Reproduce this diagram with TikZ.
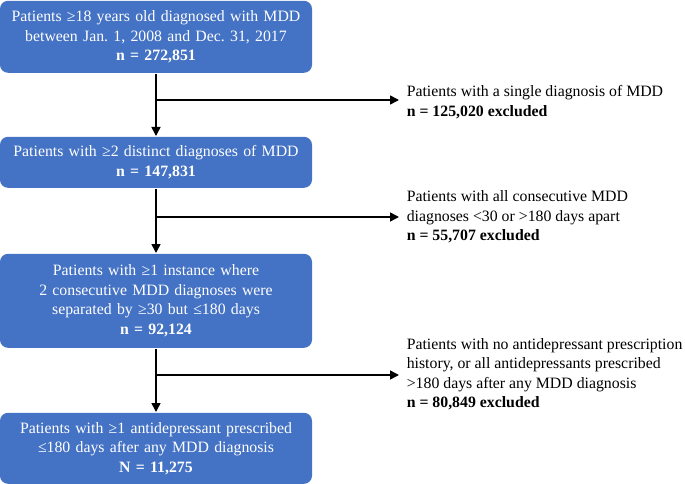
\documentclass[tikz,border=0pt]{standalone}
\usepackage{fontspec}
\setmainfont{Liberation Serif}
\usetikzlibrary{arrows.meta,positioning,calc}
\definecolor{boxblue}{HTML}{4472C4}
\frenchspacing

\begin{document}
\begin{tikzpicture}[->, >={Triangle[length=9pt,width=9pt]}, line width=1.6pt, x=1pt, y=-1pt, font=\fontsize{15.8}{19.5}\selectfont]
\tikzstyle{stage}=[fill=boxblue,draw=none,text=white,rounded corners=8pt,minimum width=312pt,text width=308pt,align=center,inner sep=0pt,anchor=north]
\tikzstyle{excl}=[anchor=west,align=left,inner xsep=7pt,inner ysep=0pt,text=black]
\useasboundingbox (0,0) rectangle (685,484);
\node[stage,minimum height=72pt]    (1) at (156,0)   {Patients ≥18 years old diagnosed with MDD\\between Jan.~1, 2008 and Dec.~31, 2017\\\textbf{n = 272,851}};
\node[stage,minimum height=51pt]    (2) at (156,136) {Patients with ≥2 distinct diagnoses of MDD\\\textbf{n = 147,831}};
\node[stage,minimum height=94pt]    (3) at (156,253) {Patients with ≥1 instance where\\2 consecutive MDD diagnoses were\\separated by ≥30 but ≤180 days\\\textbf{n = 92,124}};
\node[stage,minimum height=71pt]    (4) at (156,412) {Patients with ≥1 antidepressant prescribed\\≤180 days after any MDD diagnosis\\\textbf{N = 11,275}};
\coordinate (s1) at (156,100);
\coordinate (s2) at (156,217);
\coordinate (s3) at (156,375);
\node[excl] (e1) at (399,102) {Patients with a single diagnosis of MDD\\\textbf{n = 125,020 excluded}};
\node[excl] (e2) at (399,217) {Patients with all consecutive MDD\\diagnoses <30 or >180 days apart\\\textbf{n = 55,707 excluded}};
\node[excl] (e3) at (399,374) {Patients with no antidepressant prescription\\history, or all antidepressants prescribed\\>180 days after any MDD diagnosis\\\textbf{n = 80,849 excluded}};
\path
(1) edge (2)
(2) edge (3)
(3) edge (4)
(s1) edge (s1 -| e1.west)
(s2) edge (s2 -| e2.west)
(s3) edge (s3 -| e3.west);
\end{tikzpicture}
\end{document}
